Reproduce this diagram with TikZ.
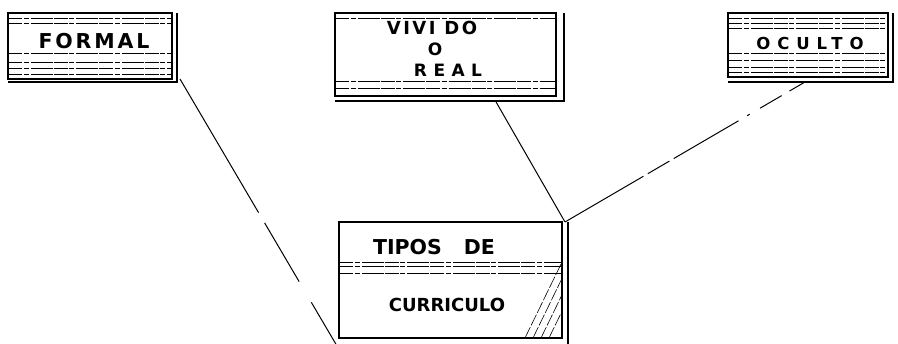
\documentclass[tikz,border=0pt]{standalone}
\usepackage{fontspec}
\newfontfamily\rotulo{DejaVu Sans Bold}
\usetikzlibrary{calc}

\tikzset{
  caja/.style={draw, line width=1.8pt, inner sep=0pt, outer sep=0pt},
  sombra/.style={line width=1.8pt},
  raya/.style={line width=0.7pt, dash pattern=on 14pt off 1.5pt on 5pt off 2pt on 22pt off 1pt},
  texto/.style 2 args={inner sep=0pt, font=\rotulo\fontsize{#1}{#1}\selectfont\addfontfeature{LetterSpace=#2}},
  enlace/.style={line width=1pt},
  trama/.style={line width=0.6pt, dash pattern=on 12pt off 2pt}
}

\begin{document}
\begin{tikzpicture}[x=1pt,y=-1pt]
    %% marco
    \useasboundingbox (0,0) rectangle (898,344);
    %% cajas
    \node[caja, minimum width=164pt, minimum height=66pt] (formal) at (90,46) {};
    \node[caja, minimum width=221pt, minimum height=83pt] (vivido) at (445.5,54.5) {};
    \node[caja, minimum width=160pt, minimum height=64pt] (oculto) at (808,45) {};
    \node[caja, minimum width=223pt, minimum height=116pt] (tipos) at (450.5,280) {};
    %% sombras
    \draw[sombra] ($(formal.north east)+(5,0)$) |- ($(formal.south west)+(0,3)$);
    \draw[sombra] ($(vivido.north east)+(8,0)$) |- ($(vivido.south west)+(0,5)$);
    \draw[sombra] ($(oculto.north east)+(5,0)$) |- ($(oculto.south west)+(0,5)$);
    \draw[sombra] ($(tipos.north east)+(6,0)$) -- ($(tipos.south east)+(6,8)$);
    %% rayas
    \foreach \dy in {5,10,40,49,55,61}
        \draw[raya] ($(formal.north west)+(0,\dy)$) -- ($(formal.north east)+(0,\dy)$);
    \foreach \dy in {5,68,75}
        \draw[raya] ($(vivido.north west)+(0,\dy)$) -- ($(vivido.north east)+(0,\dy)$);
    \foreach \dy in {5,10,15,40,47,54,59}
        \draw[raya] ($(oculto.north west)+(0,\dy)$) -- ($(oculto.north east)+(0,\dy)$);
    \foreach \dy in {40,44,51}
        \draw[raya] ($(tipos.north west)+(0,\dy)$) -- ($(tipos.north east)+(0,\dy)$);
    %% trama de la esquina
    \foreach \d in {0,8,16,24}
        \draw[trama] ($(tipos.south east)+(-37+\d,0)$) -- ($(tipos.south east)+(0,-76+2.05*\d)$);
    %% textos
    \node[texto={20.5}{14}] (formal-txt) at (94,41) {FORMAL};
    \node[texto={18}{14}] (vivido-txt1) at (432,28) {VIVI DO};
    \node[texto={17}{0}] (vivido-txt2) at (435,49) {O};
    \node[texto={17}{38}] (vivido-txt3) at (448,70.5) {REAL};
    \node[texto={16.5}{42}] (oculto-txt) at (810,43) {OCULTO};
    \node[texto={20.5}{0}] (tipos-txt1) at (434,247.5) {TIPOS\hspace{22pt}DE};
    \node[texto={18}{0}] (tipos-txt2) at (447,305) {CURRICULO};
    %% enlaces
    \coordinate (formal-pie) at ($(formal.south east)+(8,0)$);
    \coordinate (vivido-pie) at ($(vivido.south)+(50,5)$);
    \coordinate (oculto-pie) at ($(oculto.south)+(-3,5)$);
    \coordinate (tipos-esquina) at ($(tipos.north east)+(3,0)$);
    \coordinate (tipos-pie) at ($(tipos.south west)+(-2,8)$);
    \draw[enlace, dash pattern=on 155pt off 12pt on 68pt off 24pt on 100pt off 0pt] (formal-pie) -- (tipos-pie);
    \draw[enlace] (vivido-pie) -- (tipos-esquina);
    \draw[enlace, dash pattern=on 18pt off 9pt on 25pt off 12pt on 3pt off 10pt on 75pt off 5pt on 25pt off 5pt on 120pt off 0pt] (oculto-pie) -- (tipos-esquina);
\end{tikzpicture}
\end{document}
